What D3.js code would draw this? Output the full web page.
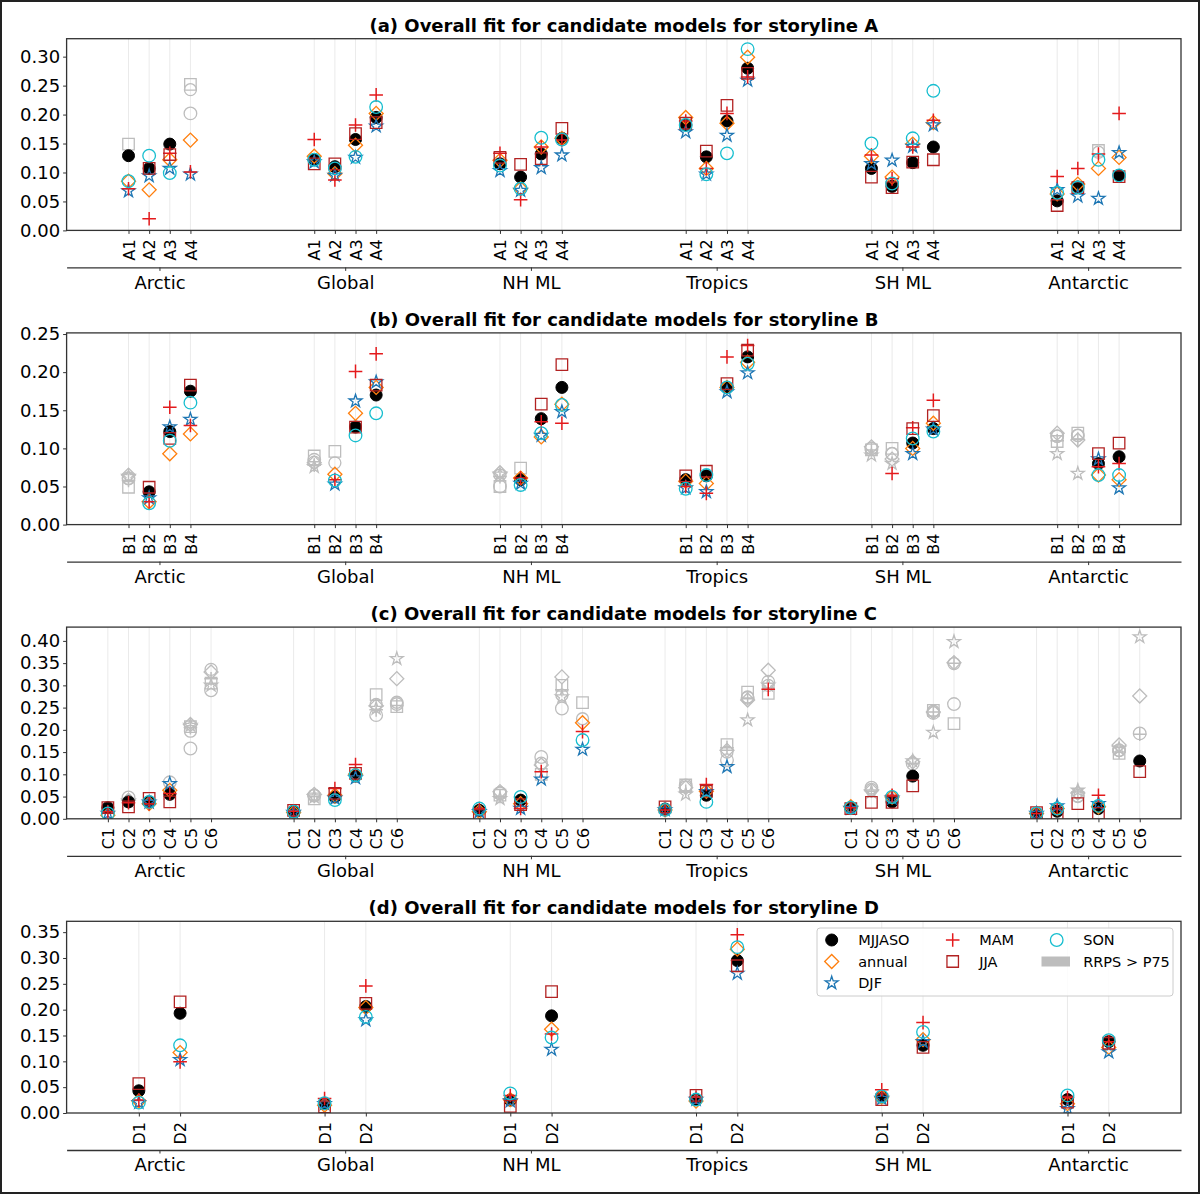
<!DOCTYPE html>
<html>
<head>
<meta charset="utf-8">
<script src="https://cdn.jsdelivr.net/npm/d3@7"></script>
<style>
  body { margin: 0; background: #fff; }
  svg { display: block; font-family: "DejaVu Sans", sans-serif; }
</style>
</head>
<body>
<script>
// regions and seasons shared by all four panels
const regions = ["Arctic", "Global", "NH ML", "Tropics", "SH ML", "Antarctic"];
const seasons = ["MJJASO", "annual", "DJF", "MAM", "JJA", "SON"];

const titles = [
  "(a) Overall fit for candidate models for storyline A",
  "(b) Overall fit for candidate models for storyline B",
  "(c) Overall fit for candidate models for storyline C",
  "(d) Overall fit for candidate models for storyline D"
];

const modelsA = ["A1", "A2", "A3", "A4"];
const modelsB = ["B1", "B2", "B3", "B4"];
const modelsC = ["C1", "C2", "C3", "C4", "C5", "C6"];
const modelsD = ["D1", "D2"];

const yTicksA = [0, 0.05, 0.10, 0.15, 0.20, 0.25, 0.30];
const yTicksB = [0, 0.05, 0.10, 0.15, 0.20, 0.25];
const yTicksC = [0, 0.05, 0.10, 0.15, 0.20, 0.25, 0.30, 0.35, 0.40];
const yTicksD = [0, 0.05, 0.10, 0.15, 0.20, 0.25, 0.30, 0.35];

// values are region-major: Arctic models, Global models, ...
// storyline A
const A_MJJASO = [0.129, 0.107, 0.149, 0.243, 0.122, 0.110, 0.157, 0.195, 0.115, 0.092, 0.132, 0.159,
                  0.182, 0.127, 0.189, 0.280, 0.107, 0.076, 0.117, 0.144, 0.051, 0.075, 0.135, 0.095];
const A_annual = [0.085, 0.070, 0.122, 0.156, 0.128, 0.098, 0.147, 0.202, 0.121, 0.072, 0.144, 0.159,
                  0.195, 0.107, 0.185, 0.299, 0.128, 0.092, 0.149, 0.186, 0.063, 0.080, 0.107, 0.126];
const A_DJF    = [0.068, 0.094, 0.107, 0.097, 0.118, 0.095, 0.126, 0.180, 0.103, 0.069, 0.108, 0.130,
                  0.170, 0.097, 0.164, 0.259, 0.115, 0.121, 0.145, 0.182, 0.070, 0.059, 0.055, 0.134];
const A_MAM    = [0.072, 0.020, 0.133, 0.101, 0.157, 0.087, 0.182, 0.234, 0.133, 0.053, 0.144, 0.156,
                  0.189, 0.107, 0.202, 0.265, 0.130, 0.089, 0.144, 0.190, 0.093, 0.107, 0.132, 0.202];
const A_JJA    = [0.149, 0.107, 0.131, 0.252, 0.115, 0.115, 0.167, 0.186, 0.126, 0.114, 0.124, 0.176,
                  0.185, 0.137, 0.216, 0.271, 0.092, 0.074, 0.118, 0.122, 0.043, 0.074, 0.138, 0.093];
const A_SON    = [0.085, 0.129, 0.099, 0.202, 0.122, 0.107, 0.127, 0.213, 0.112, 0.072, 0.160, 0.157,
                  0.182, 0.097, 0.133, 0.313, 0.150, 0.081, 0.159, 0.241, 0.065, 0.074, 0.122, 0.095];
const A_GRAY = [["Arctic", "A1", "JJA"], ["Arctic", "A4", "MJJASO JJA SON"], ["Antarctic", "A3", "MJJASO JJA"]];

// storyline B
const B_MJJASO = [0.060, 0.043, 0.122, 0.175, 0.082, 0.081, 0.128, 0.170, 0.065, 0.059, 0.139, 0.180,
                  0.059, 0.064, 0.180, 0.220, 0.100, 0.093, 0.107, 0.126, 0.116, 0.117, 0.080, 0.089];
const B_annual = [0.065, 0.030, 0.093, 0.119, 0.081, 0.066, 0.146, 0.180, 0.068, 0.061, 0.115, 0.158,
                  0.057, 0.054, 0.180, 0.213, 0.102, 0.086, 0.100, 0.133, 0.120, 0.111, 0.065, 0.059];
const B_DJF    = [0.063, 0.035, 0.128, 0.138, 0.076, 0.053, 0.162, 0.187, 0.066, 0.054, 0.117, 0.148,
                  0.048, 0.043, 0.174, 0.199, 0.091, 0.080, 0.093, 0.125, 0.093, 0.067, 0.086, 0.048];
const B_MAM    = [0.058, 0.030, 0.154, 0.130, 0.078, 0.059, 0.201, 0.224, 0.063, 0.061, 0.135, 0.133,
                  0.050, 0.041, 0.220, 0.235, 0.098, 0.067, 0.127, 0.163, 0.110, 0.112, 0.076, 0.080];
const B_JJA    = [0.049, 0.049, 0.113, 0.183, 0.090, 0.096, 0.128, 0.183, 0.050, 0.074, 0.158, 0.210,
                  0.064, 0.070, 0.185, 0.229, 0.098, 0.100, 0.126, 0.143, 0.109, 0.120, 0.093, 0.107];
const B_SON    = [0.061, 0.028, 0.110, 0.160, 0.085, 0.058, 0.117, 0.146, 0.050, 0.052, 0.120, 0.157,
                  0.047, 0.065, 0.180, 0.211, 0.100, 0.093, 0.113, 0.122, 0.116, 0.117, 0.065, 0.065];
const B_GRAY = [["Arctic", "B1", "all"], ["Global", "B1", "all"], ["Global", "B2", "MJJASO JJA"],
                ["NH ML", "B1", "all"], ["NH ML", "B2", "JJA"], ["SH ML", "B1", "all"],
                ["SH ML", "B2", "MJJASO annual DJF JJA SON"], ["Antarctic", "B1", "all"], ["Antarctic", "B2", "all"]];

// storyline C
const C_MJJASO = [0.025, 0.038, 0.038, 0.055, 0.197, 0.336, 0.017, 0.053, 0.049, 0.096, 0.257, 0.262,
                  0.019, 0.059, 0.042, 0.125, 0.278, 0.225, 0.022, 0.072, 0.053, 0.150, 0.274, 0.300,
                  0.025, 0.066, 0.038, 0.096, 0.242, 0.349, 0.012, 0.017, 0.050, 0.023, 0.154, 0.130];
const C_annual = [0.008, 0.042, 0.034, 0.064, 0.212, 0.330, 0.014, 0.055, 0.053, 0.100, 0.254, 0.315,
                  0.016, 0.061, 0.034, 0.121, 0.319, 0.216, 0.020, 0.070, 0.062, 0.154, 0.267, 0.334,
                  0.027, 0.064, 0.049, 0.128, 0.240, 0.351, 0.012, 0.023, 0.058, 0.027, 0.166, 0.276];
const C_DJF    = [0.012, 0.040, 0.037, 0.079, 0.210, 0.300, 0.014, 0.049, 0.046, 0.092, 0.248, 0.360,
                  0.016, 0.045, 0.023, 0.089, 0.274, 0.156, 0.020, 0.055, 0.061, 0.117, 0.222, 0.300,
                  0.023, 0.060, 0.046, 0.130, 0.194, 0.398, 0.012, 0.029, 0.064, 0.034, 0.158, 0.409];
const C_MAM    = [0.016, 0.036, 0.034, 0.057, 0.205, 0.315, 0.017, 0.050, 0.068, 0.122, 0.245, 0.255,
                  0.023, 0.050, 0.023, 0.106, 0.290, 0.196, 0.020, 0.062, 0.077, 0.160, 0.270, 0.291,
                  0.025, 0.062, 0.053, 0.125, 0.240, 0.350, 0.012, 0.023, 0.060, 0.053, 0.150, 0.190];
const C_JJA    = [0.025, 0.027, 0.046, 0.038, 0.207, 0.305, 0.019, 0.045, 0.057, 0.102, 0.279, 0.252,
                  0.008, 0.053, 0.032, 0.100, 0.300, 0.261, 0.027, 0.076, 0.062, 0.167, 0.285, 0.282,
                  0.023, 0.037, 0.037, 0.074, 0.244, 0.214, 0.014, 0.010, 0.034, 0.012, 0.147, 0.106];
const C_SON    = [0.012, 0.048, 0.038, 0.082, 0.158, 0.289, 0.016, 0.052, 0.042, 0.098, 0.233, 0.258,
                  0.023, 0.057, 0.049, 0.139, 0.248, 0.177, 0.020, 0.075, 0.038, 0.132, 0.272, 0.308,
                  0.025, 0.070, 0.049, 0.124, 0.238, 0.258, 0.012, 0.023, 0.052, 0.029, 0.154, 0.192];
const C_GRAY = [["Arctic", "C2", "annual DJF SON"], ["Arctic", "C4", "SON"], ["Arctic", "C5", "all"], ["Arctic", "C6", "all"],
                ["Global", "C2", "all"], ["Global", "C5", "all"], ["Global", "C6", "all"],
                ["NH ML", "C2", "all"], ["NH ML", "C4", "MJJASO annual JJA SON"], ["NH ML", "C5", "all"], ["NH ML", "C6", "MJJASO JJA"],
                ["Tropics", "C2", "all"], ["Tropics", "C4", "MJJASO annual MAM JJA SON"], ["Tropics", "C5", "all"],
                ["Tropics", "C6", "MJJASO annual DJF JJA SON"],
                ["SH ML", "C2", "MJJASO annual DJF MAM SON"], ["SH ML", "C4", "annual DJF MAM SON"], ["SH ML", "C5", "all"], ["SH ML", "C6", "all"],
                ["Antarctic", "C3", "MJJASO annual DJF MAM SON"], ["Antarctic", "C5", "all"], ["Antarctic", "C6", "annual DJF MAM SON"]];

// storyline D
const D_MJJASO = [0.043, 0.193, 0.018, 0.206, 0.025, 0.188, 0.026, 0.295, 0.031, 0.131, 0.026, 0.138];
const D_annual = [0.023, 0.117, 0.015, 0.204, 0.026, 0.162, 0.023, 0.317, 0.031, 0.142, 0.018, 0.127];
const D_DJF    = [0.020, 0.103, 0.018, 0.180, 0.023, 0.123, 0.026, 0.270, 0.028, 0.138, 0.008, 0.118];
const D_MAM    = [0.025, 0.099, 0.028, 0.246, 0.034, 0.153, 0.031, 0.345, 0.045, 0.175, 0.030, 0.138];
const D_JJA    = [0.057, 0.215, 0.012, 0.212, 0.013, 0.235, 0.034, 0.285, 0.026, 0.127, 0.021, 0.135];
const D_SON    = [0.020, 0.131, 0.019, 0.186, 0.038, 0.146, 0.026, 0.321, 0.032, 0.157, 0.034, 0.141];
const D_GRAY = [];

// styling
const colors = { MJJASO: "#000000", annual: "#ff7f0e", DJF: "#1f77b4", MAM: "#e41a1c", JJA: "#b22222", SON: "#17becf" };
const grayColor = "#bdbdbd";

const panels = [
  { title: titles[0], models: modelsA, yTicks: yTicksA, yMax: 0.331, step: 1, gray: A_GRAY,
    values: { MJJASO: A_MJJASO, annual: A_annual, DJF: A_DJF, MAM: A_MAM, JJA: A_JJA, SON: A_SON } },
  { title: titles[1], models: modelsB, yTicks: yTicksB, yMax: 0.2515, step: 1, gray: B_GRAY,
    values: { MJJASO: B_MJJASO, annual: B_annual, DJF: B_DJF, MAM: B_MAM, JJA: B_JJA, SON: B_SON } },
  { title: titles[2], models: modelsC, yTicks: yTicksC, yMax: 0.431, step: 1, gray: C_GRAY,
    values: { MJJASO: C_MJJASO, annual: C_annual, DJF: C_DJF, MAM: C_MAM, JJA: C_JJA, SON: C_SON } },
  { title: titles[3], models: modelsD, yTicks: yTicksD, yMax: 0.371, step: 2, gray: D_GRAY,
    values: { MJJASO: D_MJJASO, annual: D_annual, DJF: D_DJF, MAM: D_MAM, JJA: D_JJA, SON: D_SON } }
];

const width = 1200;
const height = 1194;
const left = 66.6, right = 1181;
const panelTop = 38.7, panelH = 191.7, panelStep = 294.2;

const svg = d3.select("body").append("svg")
  .attr("width", width)
  .attr("height", height);

svg.append("rect")
  .attr("x", 1).attr("y", 1)
  .attr("width", width - 2).attr("height", height - 2)
  .attr("fill", "#fff").attr("stroke", "#222").attr("stroke-width", 2);

// region centres every 9 units, models spread around them
const x = d3.scaleLinear().domain([-4.5, 49.5]).range([left, right]);
const modelPos = (r, j, n, step) => r * 9 + (j - (n - 1) / 2) * step;

function markerPath(season) {
  if (season === "MJJASO" || season === "SON") return d3.symbol(d3.symbolCircle, season === "SON" ? 125 : 113)();
  if (season === "annual") return d3.symbol(d3.symbolSquare, 98)();
  if (season === "DJF") return d3.symbol(d3.symbolStar, 52)();
  if (season === "JJA") return d3.symbol(d3.symbolSquare, 132)();
  const s = 6.8;
  return `M${-s},0H${s}M0,${-s}V${s}`;
}

function drawMarker(g, season, cx, cy, col) {
  const p = g.append("path")
    .attr("d", markerPath(season))
    .attr("transform", `translate(${cx},${cy})` + (season === "annual" ? " rotate(45)" : ""));
  if (season === "MJJASO" && col !== grayColor) {
    p.attr("fill", col).attr("stroke", col).attr("stroke-width", 1);
  } else {
    p.attr("fill", "none").attr("stroke", col).attr("stroke-width", season === "MAM" ? 1.5 : 1.3);
  }
}

panels.forEach((pn, pi) => {
  const top = panelTop + pi * panelStep;
  const bottom = top + panelH;
  const n = pn.models.length;
  const y = d3.scaleLinear().domain([0, pn.yMax]).range([bottom, top]);
  const g = svg.append("g");

  // gray lookup
  const grayKeys = new Set();
  pn.gray.forEach(([reg, mod, list]) => {
    const ss = list === "all" ? seasons : list.split(" ");
    ss.forEach(s => grayKeys.add(reg + "|" + mod + "|" + s));
  });

  const ticksPos = [], ticksLab = [];
  regions.forEach((reg, r) => pn.models.forEach((m, j) => {
    ticksPos.push(modelPos(r, j, n, pn.step));
    ticksLab.push(m);
  }));

  // light vertical grid at each model
  g.append("g").selectAll("line")
    .data(ticksPos)
    .join("line")
    .attr("x1", d => x(d)).attr("x2", d => x(d))
    .attr("y1", top).attr("y2", bottom)
    .attr("stroke", "#e4e4e4").attr("stroke-width", 0.8);

  const clipId = "clip" + pi;
  g.append("clipPath").attr("id", clipId)
    .append("rect").attr("x", left).attr("y", top).attr("width", right - left).attr("height", panelH);

  const marks = g.append("g").attr("clip-path", `url(#${clipId})`);

  // gray (RRPS > P75) markers first, then coloured ones in legend order
  [true, false].forEach(grayPass => {
    seasons.forEach(s => {
      regions.forEach((reg, r) => pn.models.forEach((m, j) => {
        const isGray = grayKeys.has(reg + "|" + m + "|" + s);
        if (isGray !== grayPass) return;
        const v = pn.values[s][r * n + j];
        drawMarker(marks, s, x(modelPos(r, j, n, pn.step)), y(v), isGray ? grayColor : colors[s]);
      }));
    });
  });

  // frame
  g.append("rect")
    .attr("x", left).attr("y", top)
    .attr("width", right - left).attr("height", panelH)
    .attr("fill", "none").attr("stroke", "#333").attr("stroke-width", 1.3);

  // y axis
  const ya = g.append("g")
    .attr("transform", `translate(${left},0)`)
    .call(d3.axisLeft(y).tickValues(pn.yTicks).tickFormat(d3.format(".2f")).tickSize(3.5).tickPadding(3));
  ya.select(".domain").remove();
  ya.selectAll("line").attr("stroke", "#333");
  ya.selectAll("text").attr("font-size", 18).attr("fill", "#000").attr("font-family", "DejaVu Sans");

  // model tick labels
  const xa = g.append("g")
    .attr("transform", `translate(0,${bottom})`)
    .call(d3.axisBottom(x).tickValues(ticksPos).tickFormat((d, i) => ticksLab[i]).tickSize(3.5));
  xa.select(".domain").remove();
  xa.selectAll("line").attr("stroke", "#333");
  xa.selectAll("text")
    .attr("font-size", 16).attr("fill", "#000").attr("font-family", "DejaVu Sans")
    .attr("y", 0).attr("x", -9).attr("dy", "0.35em")
    .attr("transform", "rotate(-90)")
    .style("text-anchor", "end");

  // region axis below
  const ra = g.append("g")
    .attr("transform", `translate(0,${bottom + 37})`)
    .call(d3.axisBottom(x).tickValues(regions.map((d, r) => r * 9)).tickFormat((d, i) => regions[i]).tickSize(3.5).tickSizeOuter(0).tickPadding(5));
  ra.select(".domain").attr("stroke", "#333").attr("stroke-width", 1.3);
  ra.selectAll("line").attr("stroke", "#333");
  ra.selectAll("text").attr("font-size", 18).attr("fill", "#000").attr("font-family", "DejaVu Sans");

  // title
  g.append("text")
    .attr("x", (left + right) / 2)
    .attr("y", top - 7)
    .attr("text-anchor", "middle")
    .attr("font-size", 18)
    .attr("font-weight", "bold")
    .text(pn.title);
});

// legend in panel (d): three columns holding 3, 2 and 2 entries
const lg = svg.append("g");
lg.append("rect")
  .attr("x", 817).attr("y", 928).attr("width", 356).attr("height", 68)
  .attr("rx", 3).attr("fill", "#fff").attr("fill-opacity", 0.85)
  .attr("stroke", "#cccccc").attr("stroke-width", 1);

const legCols = [831.7, 952.7, 1056.7];
const legRows = [940, 961.5, 983];
const legSlots = [[0, 0], [0, 1], [0, 2], [1, 0], [1, 1], [2, 0]];
seasons.forEach((s, i) => {
  const cx = legCols[legSlots[i][0]], cy = legRows[legSlots[i][1]];
  drawMarker(lg, s, cx, cy, colors[s]);
  lg.append("text")
    .attr("x", cx + 26.5).attr("y", cy).attr("dy", "0.36em")
    .attr("font-size", 14.5)
    .text(s);
});
lg.append("rect")
  .attr("x", 1041.5).attr("y", legRows[1] - 5).attr("width", 28.5).attr("height", 10)
  .attr("fill", grayColor);
lg.append("text")
  .attr("x", legCols[2] + 26.5).attr("y", legRows[1]).attr("dy", "0.36em")
  .attr("font-size", 14.5)
  .text("RRPS > P75");
</script>
</body>
</html>
